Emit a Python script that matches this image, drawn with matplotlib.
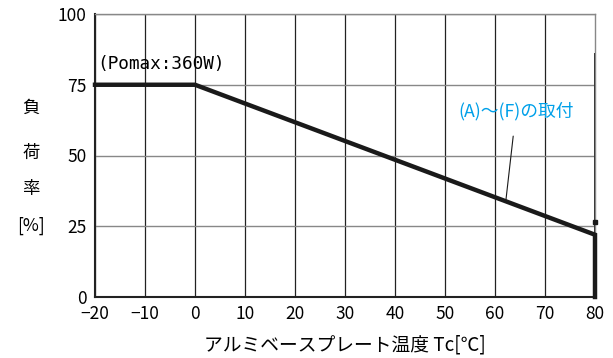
import matplotlib
matplotlib.use("Agg")
import matplotlib.pyplot as plt

plt.rcParams['font.family'] = ['Noto Sans CJK JP', 'DejaVu Sans']

# derating curve
temp = [-20, 0, 80, 80]
load = [75, 75, 22, 0]

xticks = [-20, -10, 0, 10, 20, 30, 40, 50, 60, 70, 80]
yticks = [0, 25, 50, 75, 100]

fig = plt.figure(figsize=(6.13, 3.58), dpi=100)
ax = fig.add_axes([95/613, 61/358, 500/613, 283/358])

ax.set_xlim(-20, 80)
ax.set_ylim(0, 100)
ax.set_xticks(xticks)
ax.set_yticks(yticks)
ax.set_xticklabels([str(v).replace('-', '\u2212') for v in xticks], fontsize=12.5)
ax.set_yticklabels([str(v) for v in yticks], fontsize=12.5)
ax.tick_params(length=0, pad=6)

for x in xticks[:-1]:
    ax.axvline(x, color='#222222', lw=0.9, zorder=1)
ax.axvline(80, ymin=0, ymax=0.86, color='#222222', lw=1.4, zorder=2)
for y in yticks:
    ax.axhline(y, color='#888888', lw=1.0, zorder=1)

for s in ['left', 'bottom']:
    ax.spines[s].set_color('#222222')
    ax.spines[s].set_linewidth(1.5)
for s in ['top', 'right']:
    ax.spines[s].set_color('#888888')
    ax.spines[s].set_linewidth(1.0)

ax.plot(temp, load, color='#1a1a1a', lw=3.2, solid_joinstyle='miter', zorder=3, clip_on=False)
ax.plot([80], [26.5], marker='s', color='#1a1a1a', ms=3, zorder=3, clip_on=False)

ax.text(-19.5, 79, '(Pomax:360W)', fontsize=12.8, ha='left', va='bottom',
        family=['DejaVu Sans Mono'])
ax.annotate('(A)～(F)の取付', xy=(62.2, 34.5), xytext=(64.2, 65.5),
            color='#00a0e9', fontsize=12.8, ha='center', va='center',
            arrowprops=dict(arrowstyle='-', color='#1a1a1a', lw=0.8, shrinkA=9, shrinkB=0))

ylab = ['負', '荷', '率', '[%]']
ypos = [67, 51, 38, 25]
for t, y in zip(ylab, ypos):
    ax.text(-32.8, y, t, fontsize=12.5, ha='center', va='center')

ax.set_xlabel('アルミベースプレート温度 Tc[℃]', fontsize=13.5, labelpad=8)

fig.savefig('out.png', dpi=100)
